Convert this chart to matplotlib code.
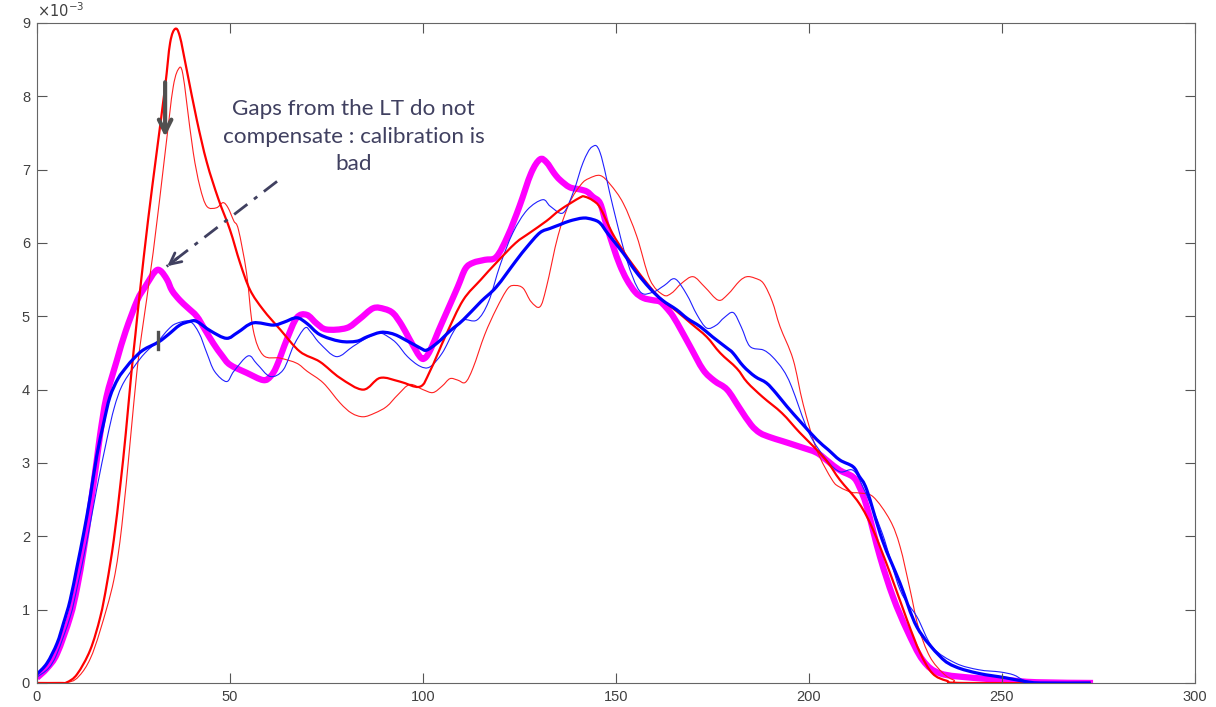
import matplotlib
matplotlib.use("Agg")
import matplotlib.pyplot as plt
from matplotlib.path import Path
from matplotlib.patches import PathPatch
import numpy as np

plt.rcParams["font.family"] = ["Liberation Sans", "DejaVu Sans"]

# values (y in units of 1e-3)
red_thick_x = [0, 6, 7.8, 10.4, 13.8, 16.4, 18.1, 19.9, 21.6, 23, 24.5, 25.5, 26.7, 28.8, 31, 33.2, 34.5, 35.8,
               37, 38.8, 41.4, 44, 47, 50, 52.6, 55.2, 58.6, 63, 68.1, 73.3, 78.5, 84.5, 88.9, 94, 99.2, 101.8,
               106, 110.4, 115, 119, 124, 127.7, 132, 135.5, 140.7, 142, 144, 145.9, 149, 151.9, 154.4, 158.8,
               162, 165.7, 169.5, 173.5, 177, 181.3, 184, 188, 193, 197.5, 202, 205, 208, 213, 216.6, 221, 225.4,
               228.8, 232, 235.7, 240, 273]
red_thick_y = [0, 0, 0.01, 0.12, 0.45, 0.9, 1.35, 1.95, 2.7, 3.4, 4.25, 4.75, 5.35, 6.32, 7.23, 8.13, 8.73, 8.92,
               8.82, 8.36, 7.68, 7.1, 6.6, 6.18, 5.73, 5.36, 5.09, 4.82, 4.52, 4.38, 4.16, 4.0, 4.16, 4.11, 4.04,
               4.25, 4.75, 5.22, 5.5, 5.73, 6.0, 6.14, 6.3, 6.45, 6.62, 6.63, 6.58, 6.48, 6.14, 5.89, 5.7, 5.4,
               5.22, 5.07, 4.9, 4.72, 4.5, 4.29, 4.1, 3.9, 3.68, 3.42, 3.18, 3.0, 2.77, 2.45, 2.09, 1.5, 0.86,
               0.41, 0.13, 0.03, 0, 0]

red_thin_x = [0, 8, 11, 13.8, 16.4, 19.9, 22, 24.2, 25.8, 27.1, 30.1, 33.2, 35.3, 36.9, 37.8, 38.8, 40.5, 42.2,
              44, 46.5, 48.2, 49.5, 51, 52.2, 54.3, 56, 58.6, 63, 67.3, 70, 74.2, 78.5, 81.5, 84.5, 87.5, 90.6,
              93.5, 96.6, 100, 102.6, 105, 107, 109, 111, 113, 116, 119, 122, 124, 126, 128, 130.3, 132, 135,
              138, 141, 143, 145.9, 148.5, 151.9, 155.4, 158.8, 162.3, 164.5, 167, 170, 173, 176.5, 179, 182,
              183.9, 186, 188.2, 190.5, 192.5, 195.9, 198.5, 202, 206, 208, 211, 213, 216.6, 221, 223.6, 226.2,
              228.3, 231.3, 234.8, 237.5, 241, 273]
red_thin_y = [0, 0.01, 0.1, 0.33, 0.72, 1.4, 2.15, 3.32, 4.2, 4.75, 5.87, 7.23, 8.13, 8.39, 8.3, 7.91, 7.23,
              6.77, 6.5, 6.48, 6.55, 6.48, 6.3, 6.18, 5.59, 4.82, 4.47, 4.43, 4.36, 4.25, 4.09, 3.82, 3.68, 3.63,
              3.68, 3.77, 3.93, 4.07, 4.0, 3.96, 4.05, 4.15, 4.13, 4.1, 4.3, 4.75, 5.1, 5.38, 5.42, 5.38, 5.2,
              5.13, 5.4, 6.1, 6.55, 6.8, 6.88, 6.92, 6.8, 6.54, 6.09, 5.5, 5.29, 5.32, 5.45, 5.54, 5.4, 5.22,
              5.3, 5.48, 5.54, 5.52, 5.45, 5.2, 4.86, 4.41, 3.8, 3.18, 2.77, 2.67, 2.6, 2.59, 2.54, 2.22, 1.86,
              1.27, 0.77, 0.36, 0.13, 0.04, 0, 0]

blue_thick_x = [0, 2.6, 5.2, 6.9, 8.6, 10.4, 12.1, 13.8, 15.5, 17.3, 18.9, 21, 23.2, 25, 27.5, 31.5, 34, 37,
                39.6, 41.4, 45, 49.1, 52, 56, 61.2, 64, 67.3, 70, 73.3, 78.5, 82.8, 85.5, 88.9, 91.5, 94, 99.2,
                101, 104, 107, 110.4, 115, 119, 124, 127, 130.3, 133, 135.5, 138, 141.5, 144, 145.9, 148, 151.9,
                155, 158.8, 162, 165.7, 168.5, 171.8, 175, 178.7, 180.3, 183, 186, 189, 191.5, 194.3, 198, 202,
                205, 208, 211.4, 213, 215, 219, 223.6, 228, 234, 238, 244, 251, 256, 260, 273]
blue_thick_y = [0.12, 0.27, 0.54, 0.82, 1.13, 1.59, 2.04, 2.54, 3.1, 3.55, 3.9, 4.15, 4.31, 4.42, 4.54, 4.65,
                4.75, 4.88, 4.93, 4.93, 4.8, 4.7, 4.78, 4.91, 4.88, 4.92, 4.98, 4.9, 4.75, 4.66, 4.66, 4.72,
                4.78, 4.77, 4.72, 4.57, 4.54, 4.65, 4.8, 4.95, 5.2, 5.4, 5.75, 5.95, 6.14, 6.2, 6.25, 6.3, 6.34,
                6.32, 6.27, 6.12, 5.86, 5.62, 5.38, 5.22, 5.09, 4.97, 4.86, 4.72, 4.57, 4.5, 4.32, 4.18, 4.09,
                3.95, 3.77, 3.55, 3.32, 3.18, 3.04, 2.95, 2.82, 2.63, 1.95, 1.36, 0.76, 0.36, 0.22, 0.13, 0.07,
                0.02, 0, 0]

blue_thin_x = [0, 3, 5.2, 8.6, 10.4, 13, 15.5, 18.1, 20, 22, 25, 28, 31.5, 34, 36, 39.6, 42, 44, 46, 49.1, 51,
               54.7, 57, 60.4, 63.8, 66.5, 69.4, 71, 73.3, 77.6, 81.9, 86, 88.9, 91, 93.2, 96, 99.2, 101.8, 105,
               108, 110.4, 114, 117, 120, 123.3, 127, 131, 133, 136.3, 139, 141.5, 143.8, 145.9, 149.2, 152.8,
               156.2, 159.6, 162.5, 165.3, 168.3, 171, 173.5, 176, 178, 180.4, 182.5, 184.7, 188.2, 190.5, 193.3,
               195.5, 200, 204.6, 208, 211.4, 214, 219, 223.6, 228, 232, 238, 244, 249.5, 253, 255.5, 258, 273]
blue_thin_y = [0.08, 0.2, 0.4, 0.9, 1.3, 1.95, 2.65, 3.32, 3.75, 4.05, 4.3, 4.5, 4.67, 4.82, 4.9, 4.93, 4.77,
               4.5, 4.25, 4.11, 4.25, 4.46, 4.35, 4.18, 4.27, 4.6, 4.84, 4.78, 4.63, 4.45, 4.59, 4.72, 4.77,
               4.72, 4.63, 4.45, 4.32, 4.31, 4.5, 4.8, 4.95, 4.95, 5.2, 5.7, 6.14, 6.45, 6.59, 6.5, 6.41, 6.7,
               7.1, 7.31, 7.23, 6.5, 5.77, 5.34, 5.33, 5.42, 5.51, 5.3, 5.02, 4.84, 4.88, 4.98, 5.05, 4.85,
               4.59, 4.54, 4.45, 4.27, 4.04, 3.41, 3.04, 2.88, 2.9, 2.67, 2.04, 1.27, 0.9, 0.49, 0.27, 0.18,
               0.15, 0.11, 0.04, 0, 0]

magenta_x = [0, 2.6, 5.2, 8.6, 10.4, 12.1, 13.8, 15.5, 16.4, 18, 20.7, 23, 26, 28, 30.6, 32, 33.7, 35, 37, 39,
             41.4, 43.5, 45.7, 48, 50, 54.3, 58.6, 60.5, 62.1, 64.7, 67.3, 69.9, 72.5, 75, 80.2, 83.5, 87.1, 90,
             92.3, 94.5, 96.6, 99.2, 100.5, 102, 104, 106, 109, 111, 113, 116, 119, 122, 125, 128, 130.3, 132,
             134, 135.5, 138, 140.7, 142.5, 144, 145.9, 147.5, 149.3, 151, 152.8, 155, 157.1, 159.5, 161.4, 163,
             164.8, 167, 169.2, 172.6, 175.5, 178.8, 182, 185, 187.3, 190, 193, 197.7, 202, 205, 208, 211.4,
             213, 215, 218.4, 221.8, 225.4, 229.5, 234, 242.5, 251, 259, 273.6]
magenta_y = [0.07, 0.2, 0.4, 0.9, 1.3, 1.81, 2.4, 3.04, 3.4, 3.9, 4.4, 4.8, 5.22, 5.4, 5.61, 5.62, 5.5, 5.35,
             5.22, 5.12, 5.0, 4.82, 4.63, 4.46, 4.34, 4.23, 4.13, 4.18, 4.32, 4.68, 4.98, 5.02, 4.9, 4.82, 4.84,
             4.96, 5.11, 5.1, 5.04, 4.88, 4.68, 4.45, 4.43, 4.55, 4.8, 5.04, 5.4, 5.65, 5.73, 5.77, 5.81, 6.1,
             6.5, 6.95, 7.14, 7.1, 6.95, 6.86, 6.76, 6.73, 6.7, 6.63, 6.54, 6.25, 5.95, 5.7, 5.5, 5.33, 5.25,
             5.22, 5.2, 5.12, 5.0, 4.8, 4.59, 4.27, 4.12, 4.0, 3.75, 3.52, 3.41, 3.35, 3.3, 3.22, 3.14, 3.02,
             2.9, 2.81, 2.68, 2.4, 1.72, 1.17, 0.72, 0.31, 0.13, 0.07, 0.04, 0.01, 0.0]

x_ticks = [0, 50, 100, 150, 200, 250, 300]
y_ticks = [0, 1, 2, 3, 4, 5, 6, 7, 8, 9]

note_text = "Gaps from the LT do not\ncompensate : calibration is\nbad"
note_color = "#404060"
grey = "#505050"


def smooth_line(ax, xs, ys, **kw):
    """Draw the read points as one curve: Catmull-Rom through the points, as Bezier segments"""
    p = np.column_stack([xs, ys]).astype(float)
    ext = np.vstack([p[0], p, p[-1]])
    verts = [p[0]]
    codes = [Path.MOVETO]
    for i in range(1, len(ext) - 2):
        c1 = ext[i] + (ext[i + 1] - ext[i - 1]) / 6.0
        c2 = ext[i + 1] - (ext[i + 2] - ext[i]) / 6.0
        verts += [c1, c2, ext[i + 1]]
        codes += [Path.CURVE4] * 3
    ax.add_patch(PathPatch(Path(verts, codes), fill=False, joinstyle="round", capstyle="butt", **kw))


fig = plt.figure(figsize=(12.16, 7.07), dpi=100)
ax = fig.add_axes([0.0304, 0.034, 0.9523, 0.9335])

smooth_line(ax, magenta_x, magenta_y, edgecolor="#ff00ff", lw=4.5)
smooth_line(ax, red_thin_x, red_thin_y, edgecolor="#ff2020", lw=0.8)
smooth_line(ax, blue_thin_x, blue_thin_y, edgecolor="#2020ff", lw=0.8)
smooth_line(ax, red_thick_x, red_thick_y, edgecolor="#ff0000", lw=1.6)
smooth_line(ax, blue_thick_x, blue_thick_y, edgecolor="#0000ff", lw=2.3)

ax.set_xlim(0, 300)
ax.set_ylim(0, 9)
ax.set_xticks(x_ticks)
ax.set_yticks(y_ticks)
ax.tick_params(direction="in", length=7, width=0.8, colors="#555555", labelcolor="#404040",
               labelsize=10.5, top=True, right=True, pad=5)
for sp in ax.spines.values():
    sp.set_color("#666666")
    sp.set_linewidth(0.8)
ax.text(0.0, 1.005, r"$\times10^{-3}$", transform=ax.transAxes, fontsize=10.5, color="#404040",
        va="bottom", ha="left")

# annotations
ax.text(82.0, 7.45, note_text, ha="center", va="center", multialignment="center", fontsize=16.2,
        color=note_color, family="Lato", linespacing=1.45)
ax.annotate("", xy=(33.2, 7.41), xytext=(33.2, 8.23),
            arrowprops=dict(arrowstyle="->,head_length=0.9,head_width=0.45", color=grey, lw=3))
ax.plot([62.2, 33.6], [6.84, 5.68], color=note_color, lw=2, ls=(0, (6, 3, 1.5, 3)))
ax.annotate("", xy=(33.2, 5.66), xytext=(37.0, 5.82),
            arrowprops=dict(arrowstyle="->,head_length=0.8,head_width=0.4", color=note_color, lw=2))
ax.plot([31.3, 31.3], [4.55, 4.79], color=grey, lw=2.4)

fig.savefig("out.png", dpi=100)
